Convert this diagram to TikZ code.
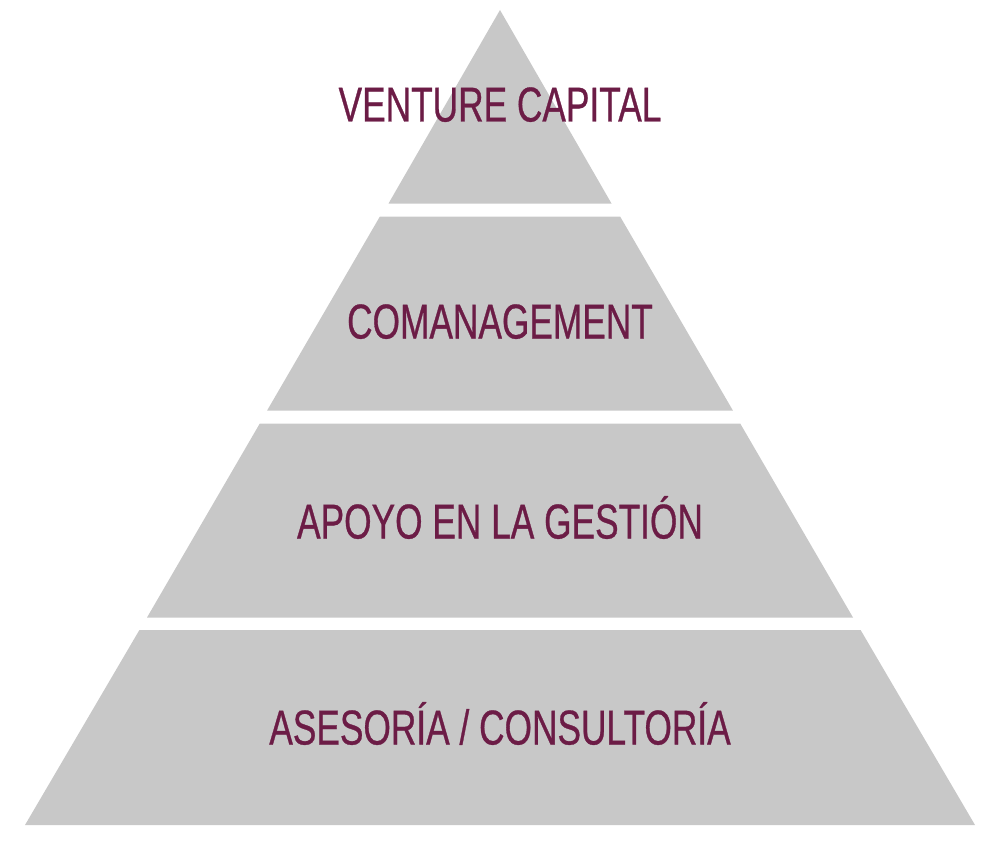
\documentclass[tikz,border=0pt]{standalone}
\usepackage{fontspec}
\setmainfont{Liberation Sans}[FakeStretch=0.72, FakeBold=0.6]
\definecolor{tiergray}{RGB}{200, 200, 200}
\definecolor{tierwine}{RGB}{108, 28, 70}
\usetikzlibrary{positioning}

\begin{document}
\begin{tikzpicture}[
  x=1pt, y=-1pt,
  tier/.style={fill=tiergray},
  tlabel/.style={anchor=base, inner sep=0pt, text=tierwine, font=\fontsize{49}{49}\selectfont}
]
  \useasboundingbox (0, 0) rectangle (1000, 845);
  % four bands of the pyramid
  \fill[tier] (500, 10) -- (611.5, 203.5) -- (388.5, 203.5) -- cycle;
  \fill[tier] (379.9, 216.5) -- (620.1, 216.5) -- (732.9, 410.5) -- (267.1, 410.5) -- cycle;
  \fill[tier] (259.8, 423.5) -- (740.2, 423.5) -- (853, 617.5) -- (147, 617.5) -- cycle;
  \fill[tier] (139.4, 630) -- (860.6, 630) -- (975, 825) -- (25, 825) -- cycle;

  \node[tlabel] (venture) at (500, 121.5) {VENTURE CAPITAL};
  \node[tlabel] (comanag) at (500, 338.5) {COMANAGEMENT};
  \node[tlabel] (apoyo) at (500, 538.5) {APOYO EN LA GESTIÓN};
  \node[tlabel] (asesoria) at (500, 744.5) {ASESORÍA / CONSULTORÍA};
\end{tikzpicture}
\end{document}
